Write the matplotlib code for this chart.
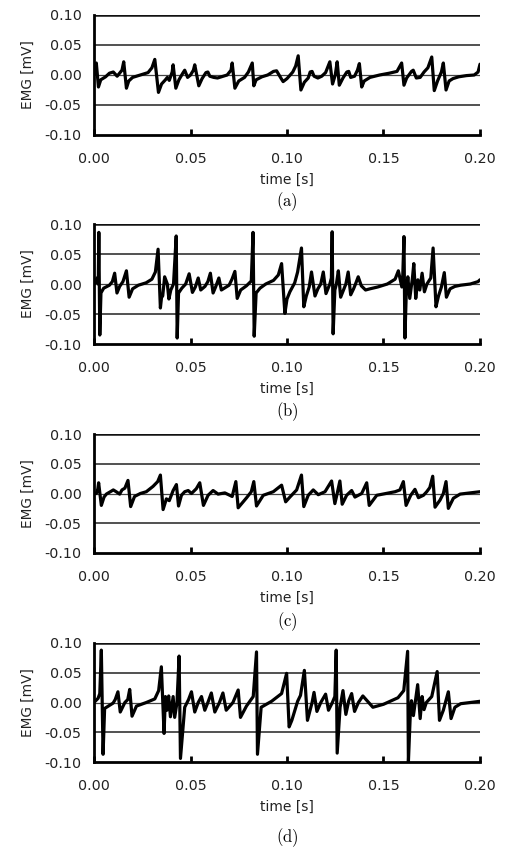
import matplotlib
matplotlib.use("Agg")
import matplotlib.pyplot as plt

plt.rcParams['font.family'] = ['DejaVu Sans']
plt.rcParams['mathtext.fontset'] = 'cm'

# ---------------- data (time [s], EMG [mV]) ----------------
t_a = [0.000, 0.0005, 0.0012, 0.0023, 0.0035, 0.006, 0.008, 0.010, 0.012, 0.013, 0.0145, 0.0154,
       0.0168, 0.018, 0.020, 0.024, 0.028, 0.030, 0.0315, 0.0334, 0.035, 0.037, 0.038, 0.039,
       0.0405, 0.041, 0.0424, 0.044, 0.046, 0.047, 0.0485, 0.050, 0.0515, 0.0522, 0.0543, 0.056,
       0.058, 0.059, 0.060, 0.062, 0.064, 0.066, 0.069, 0.071, 0.0716, 0.0730, 0.075, 0.078,
       0.080, 0.0820, 0.0828, 0.084, 0.087, 0.090, 0.093, 0.0946, 0.097, 0.098, 0.100, 0.103,
       0.1045, 0.1058, 0.1072, 0.109, 0.111, 0.112, 0.113, 0.114, 0.116, 0.118, 0.120, 0.1222,
       0.1236, 0.125, 0.1260, 0.1271, 0.129, 0.131, 0.132, 0.133, 0.135, 0.1365, 0.1375, 0.1387,
       0.140, 0.143, 0.148, 0.153, 0.157, 0.1594, 0.1606, 0.162, 0.1645, 0.1654, 0.167, 0.169,
       0.171, 0.173, 0.1750, 0.1763, 0.178, 0.180, 0.1810, 0.1824, 0.184, 0.186, 0.189, 0.193,
       0.197, 0.199, 0.200]
v_a = [0.000, 0.005, 0.020, -0.020, -0.008, -0.003, 0.003, 0.005, -0.002, 0.002, 0.008, 0.022,
       -0.022, -0.010, -0.004, 0.000, 0.004, 0.012, 0.026, -0.029, -0.015, -0.008, -0.004, -0.009,
       0.005, 0.017, -0.022, -0.008, 0.003, 0.008, -0.004, 0.000, 0.008, 0.017, -0.018, -0.006,
       0.004, 0.005, -0.002, -0.004, -0.005, -0.003, 0.000, 0.008, 0.020, -0.022, -0.010, -0.004,
       0.005, 0.020, -0.018, -0.008, -0.003, 0.000, 0.006, 0.007, -0.006, -0.011, -0.006, 0.005,
       0.015, 0.032, -0.025, -0.012, -0.005, 0.005, 0.006, -0.002, -0.005, -0.002, 0.004, 0.022,
       -0.015, 0.000, 0.022, -0.017, -0.005, 0.005, 0.006, -0.004, -0.002, 0.008, 0.019, -0.020,
       -0.010, -0.004, 0.000, 0.003, 0.006, 0.020, -0.017, -0.005, 0.006, 0.008, -0.005, -0.004,
       0.005, 0.012, 0.030, -0.026, -0.010, 0.005, 0.020, -0.025, -0.010, -0.006, -0.003, -0.001,
       0.000, 0.005, 0.018]

t_b = [0.000, 0.0010, 0.0016, 0.0022, 0.0025, 0.0030, 0.0036, 0.0050, 0.0080, 0.0095, 0.0107,
       0.0119, 0.0133, 0.0150, 0.0168, 0.0182, 0.0200, 0.0230, 0.0270, 0.0300, 0.0318, 0.0332,
       0.0344, 0.0350, 0.0356, 0.0366, 0.0380, 0.0388, 0.0398, 0.0412, 0.0426, 0.0431, 0.0438,
       0.0455, 0.0475, 0.0493, 0.0510, 0.0525, 0.0540, 0.0553, 0.0575, 0.0590, 0.0603, 0.0617,
       0.0630, 0.0647, 0.0660, 0.0680, 0.0700, 0.0715, 0.0730, 0.0742, 0.0760, 0.0790, 0.0815,
       0.0824, 0.0830, 0.0840, 0.0860, 0.0890, 0.0930, 0.0955, 0.0972, 0.0989, 0.1000, 0.1015,
       0.1040, 0.1055, 0.1075, 0.1087, 0.1100, 0.1115, 0.1127, 0.1145, 0.1160, 0.1175, 0.1188,
       0.1202, 0.1222, 0.1230, 0.1234, 0.1239, 0.1248, 0.1256, 0.1266, 0.1278, 0.1295, 0.1305,
       0.1317, 0.1330, 0.1345, 0.1355, 0.1369, 0.1385, 0.1407, 0.1430, 0.1470, 0.1520, 0.1560,
       0.1577, 0.1588, 0.1595, 0.1600, 0.1606, 0.1611, 0.1618, 0.1626, 0.1636, 0.1650, 0.1657,
       0.1667, 0.1678, 0.1688, 0.1700, 0.1712, 0.1725, 0.1745, 0.1757, 0.1772, 0.1785, 0.1800,
       0.1815, 0.1826, 0.1845, 0.1870, 0.1900, 0.1950, 0.1990, 0.2000]
v_b = [0.000, 0.003, 0.010, 0.000, 0.086, -0.085, -0.015, -0.007, -0.002, 0.004, 0.018,
       -0.015, -0.004, 0.004, 0.022, -0.022, -0.008, -0.002, 0.002, 0.008, 0.020, 0.058,
       -0.040, -0.022, -0.020, 0.012, 0.000, -0.025, -0.010, 0.000, 0.080, -0.090, -0.015,
       -0.007, 0.000, 0.017, -0.014, -0.005, 0.010, -0.010, -0.004, 0.004, 0.018, -0.015,
       -0.005, 0.010, -0.010, -0.006, -0.002, 0.008, 0.021, -0.024, -0.010, -0.003, 0.005,
       0.086, -0.087, -0.015, -0.007, 0.000, 0.006, 0.015, 0.034, -0.049, -0.025, -0.013,
       0.002, 0.020, 0.060, -0.038, -0.020, -0.005, 0.020, -0.020, -0.008, 0.000, 0.020,
       -0.016, 0.000, 0.010, 0.087, -0.083, -0.010, 0.000, 0.022, -0.022, -0.008, 0.000,
       0.020, -0.018, -0.008, 0.000, 0.012, -0.003, -0.010, -0.008, -0.005, 0.000, 0.008,
       0.022, 0.005, -0.005, 0.015, 0.079, -0.090, -0.015, 0.012, -0.024, 0.010, 0.034,
       -0.024, 0.007, -0.010, 0.018, -0.013, 0.000, 0.010, 0.060, -0.038, -0.020, -0.005,
       0.019, -0.022, -0.008, -0.004, -0.002, 0.000, 0.004, 0.007]

t_c = [0.000, 0.0012, 0.0020, 0.0024, 0.0038, 0.0052, 0.0064, 0.0090, 0.0100, 0.0115, 0.0133,
       0.0145, 0.0160, 0.0176, 0.0190, 0.0210, 0.0240, 0.0271, 0.0306, 0.0330, 0.0344, 0.0358,
       0.0375, 0.0390, 0.0410, 0.0427, 0.0438, 0.0453, 0.0470, 0.0488, 0.0505, 0.0530, 0.0548,
       0.0567, 0.0591, 0.0617, 0.0643, 0.0678, 0.0716, 0.0735, 0.0747, 0.0791, 0.0815, 0.0828,
       0.0842, 0.0877, 0.0929, 0.0972, 0.0993, 0.1015, 0.1050, 0.1075, 0.1087, 0.1110, 0.1136,
       0.1162, 0.1197, 0.1231, 0.1248, 0.1260, 0.1274, 0.1286, 0.1309, 0.1335, 0.1352, 0.1387,
       0.1413, 0.1426, 0.1465, 0.1560, 0.1585, 0.1603, 0.1617, 0.1641, 0.1663, 0.1681, 0.1707,
       0.1724, 0.1740, 0.1755, 0.1767, 0.1793, 0.1810, 0.1824, 0.1836, 0.1862, 0.1897, 0.2000]
v_c = [0.000, 0.000, 0.008, 0.018, -0.020, -0.006, -0.001, 0.004, 0.006, 0.003, -0.001,
       0.006, 0.009, 0.022, -0.022, -0.005, 0.000, 0.003, 0.012, 0.020, 0.031, -0.027,
       -0.009, -0.012, 0.005, 0.015, -0.021, -0.003, 0.003, 0.005, 0.000, 0.008, 0.018,
       -0.020, -0.003, 0.005, -0.001, 0.001, -0.005, 0.020, -0.024, -0.007, 0.003, 0.020,
       -0.021, -0.003, 0.003, 0.014, -0.014, -0.006, 0.006, 0.031, -0.022, -0.003, 0.006,
       -0.002, 0.003, 0.021, -0.017, 0.000, 0.021, -0.018, -0.003, 0.005, -0.006, 0.000,
       0.018, -0.020, -0.003, 0.003, 0.006, 0.020, -0.020, -0.003, 0.007, -0.007, -0.003,
       0.003, 0.010, 0.029, -0.023, -0.011, 0.000, 0.020, -0.025, -0.008, -0.001, 0.003]

t_d = [0.000, 0.0021, 0.0030, 0.0038, 0.0047, 0.0055, 0.0099, 0.0110, 0.0124, 0.0136, 0.0160,
       0.0175, 0.0185, 0.0197, 0.0220, 0.0271, 0.0315, 0.0335, 0.0349, 0.0363, 0.0370, 0.0378,
       0.0387, 0.0396, 0.0410, 0.0418, 0.0430, 0.0441, 0.0448, 0.0470, 0.0490, 0.0505, 0.0522,
       0.0540, 0.0557, 0.0574, 0.0590, 0.0608, 0.0626, 0.0650, 0.0668, 0.0685, 0.0720, 0.0747,
       0.0759, 0.0790, 0.0825, 0.0842, 0.0847, 0.0866, 0.0920, 0.0972, 0.0998, 0.1011, 0.1025,
       0.1055, 0.1070, 0.1090, 0.1106, 0.1130, 0.1140, 0.1155, 0.1175, 0.1200, 0.1215, 0.1235,
       0.1248, 0.1255, 0.1260, 0.1275, 0.1290, 0.1305, 0.1320, 0.1335, 0.1350, 0.1370, 0.1393,
       0.1445, 0.1500, 0.1575, 0.1605, 0.1625, 0.1629, 0.1640, 0.1645, 0.1655, 0.1677, 0.1690,
       0.1700, 0.1710, 0.1722, 0.1750, 0.1778, 0.1790, 0.1810, 0.1836, 0.1850, 0.1870, 0.1900,
       0.2000]
v_d = [0.000, 0.007, 0.015, 0.088, -0.087, -0.010, -0.001, 0.005, 0.018, -0.016, 0.000,
       0.005, 0.022, -0.023, -0.006, 0.000, 0.006, 0.020, 0.060, -0.052, 0.010, -0.013,
       0.011, -0.024, 0.010, -0.025, 0.000, 0.078, -0.094, -0.008, 0.005, 0.018, -0.016,
       0.000, 0.010, -0.013, 0.000, 0.016, -0.016, 0.000, 0.016, -0.013, 0.000, 0.021,
       -0.025, -0.006, 0.010, 0.085, -0.087, -0.008, 0.002, 0.015, 0.049, -0.041, -0.030,
       0.002, 0.012, 0.054, -0.030, 0.000, 0.017, -0.015, 0.000, 0.014, -0.013, 0.000,
       0.010, 0.088, -0.085, -0.008, 0.020, -0.020, 0.003, 0.015, -0.015, 0.000, 0.011,
       -0.008, -0.003, 0.008, 0.020, 0.086, -0.100, -0.010, 0.003, -0.022, 0.030, -0.027,
       0.010, -0.012, 0.000, 0.010, 0.052, -0.030, -0.013, 0.018, -0.027, -0.008, -0.002,
       0.002]

series = [(t_a, v_a), (t_b, v_b), (t_c, v_c), (t_d, v_d)]
panel_labels = ['(a)', '(b)', '(c)', '(d)']
x_ticks = [0.00, 0.05, 0.10, 0.15, 0.20]
y_ticks = [-0.10, -0.05, 0.00, 0.05, 0.10]
x_label = 'time [s]'
y_label = 'EMG [mV]'

# ---------------- figure ----------------
W, H = 510, 865
fig = plt.figure(figsize=(W / 100, H / 100), dpi=100)

tops = [15, 224, 434, 643]
bottoms = [135, 344, 553, 762]
label_y = [202, 412, 622, 838]
left_px, right_px = 94, 480

for i, ((t, v), lab) in enumerate(zip(series, panel_labels)):
    ax = fig.add_axes([left_px / W, 1 - bottoms[i] / H,
                       (right_px - left_px) / W, (bottoms[i] - tops[i]) / H])
    for yv in y_ticks:
        if yv == 0.10:
            ax.axhline(yv, color='#111111', lw=1.8, zorder=1)
        elif yv == 0.0:
            ax.axhline(yv, color='#444444', lw=0.9, zorder=1)
        elif yv != -0.10:
            ax.axhline(yv, color='#333333', lw=1.2, zorder=1)
    ax.plot(t, v, color='black', lw=2.3, solid_joinstyle='round',
            solid_capstyle='round', zorder=3)
    ax.set_xlim(0, 0.20)
    ax.set_ylim(-0.10, 0.10)
    ax.set_xticks(x_ticks)
    ax.set_yticks(y_ticks)
    ax.set_xticklabels([f'{x:.2f}' for x in x_ticks])
    ax.set_yticklabels([f'{y:.2f}' for y in y_ticks])
    ax.tick_params(axis='x', direction='in', length=4, width=2, pad=12, labelsize=10.3,
                   colors='black', labelcolor='#222222')
    ax.tick_params(axis='y', length=0, pad=9, labelsize=10.3, labelcolor='#222222')
    for s in ['top', 'right']:
        ax.spines[s].set_visible(False)
    for s in ['left', 'bottom']:
        ax.spines[s].set_linewidth(2.0)
        ax.spines[s].set_color('black')
    ax.set_xlabel(x_label, fontsize=10, labelpad=5, color='#222222')
    ax.set_ylabel(y_label, fontsize=9.8, labelpad=7, color='#222222')
    fig.text((left_px + right_px) / 2 / W, 1 - label_y[i] / H,
             r'$\mathrm{' + lab + '}$', ha='center', va='center', fontsize=12)

fig.savefig('out.png', dpi=100)
